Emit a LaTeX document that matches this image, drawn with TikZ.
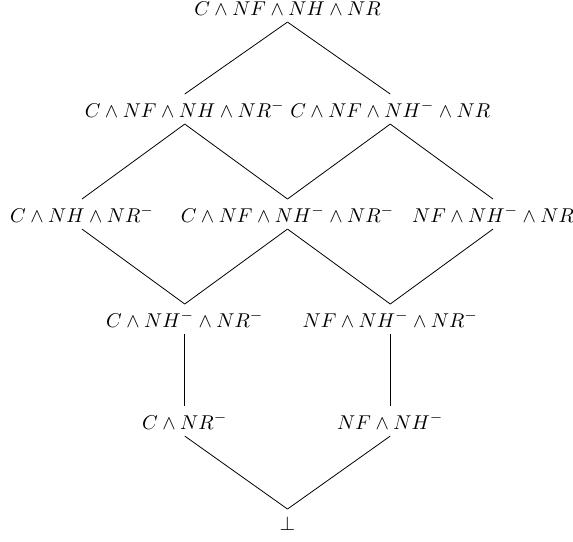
\documentclass[tikz,border=0pt]{standalone}
\begin{document}
\begin{tikzpicture}[x=0.5pt,y=-0.5pt,lbl/.style={anchor=base},edge/.style={draw=black,line width=0.4pt}]
\useasboundingbox (0,0) rectangle (573,541);
\node[lbl] (t) at (287.5,15) {$C\wedge NF\wedge NH\wedge NR$};
\node[lbl] (a) at (184.75,117) {$C\wedge NF\wedge NH\wedge NR^-$};
\node[lbl] (b) at (390.25,117) {$C\wedge NF\wedge NH^-\wedge NR$};
\node[lbl] (c) at (82,222) {$C\wedge NH\wedge NR^-$};
\node[lbl] (d) at (287.5,222) {$C\wedge NF\wedge NH^-\wedge NR^-$};
\node[lbl] (e) at (493,222) {$NF\wedge NH^-\wedge NR$};
\node[lbl] (f) at (184.75,327) {$C\wedge NH^-\wedge NR^-$};
\node[lbl] (g) at (390.25,327) {$NF\wedge NH^-\wedge NR^-$};
\node[lbl] (h) at (184.75,429) {$C\wedge NR^-$};
\node[lbl] (i) at (390.25,429) {$NF\wedge NH^-$};
\node[lbl] (j) at (287.5,530) {$\bot$};
\draw[edge] (t.south) -- (a.north);
\draw[edge] (t.south) -- (b.north);
\draw[edge] (a.south) -- (c.north);
\draw[edge] (a.south) -- (d.north);
\draw[edge] (b.south) -- (d.north);
\draw[edge] (b.south) -- (e.north);
\draw[edge] (c.south) -- (f.north);
\draw[edge] (d.south) -- (f.north);
\draw[edge] (d.south) -- (g.north);
\draw[edge] (e.south) -- (g.north);
\draw[edge] (f.south) -- (h.north);
\draw[edge] (g.south) -- (i.north);
\draw[edge] (h.south) -- (j.north);
\draw[edge] (i.south) -- (j.north);
\end{tikzpicture}
\end{document}
